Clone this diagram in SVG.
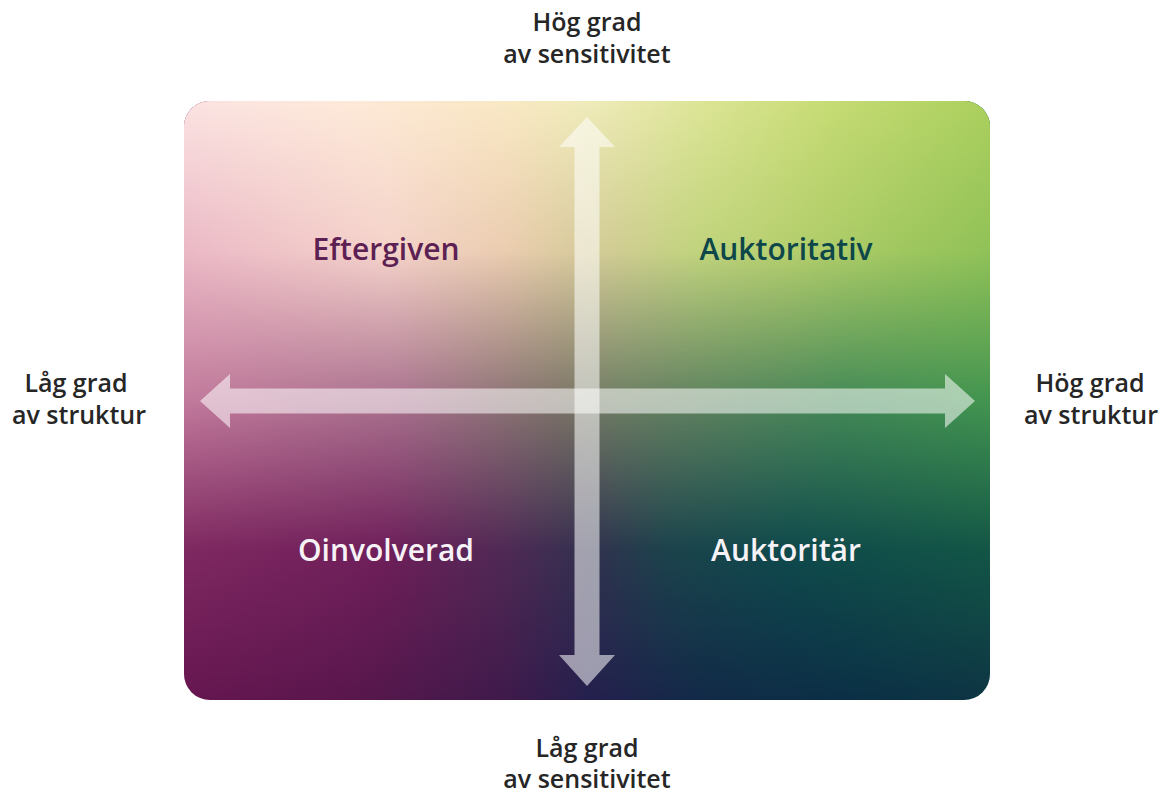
<svg xmlns="http://www.w3.org/2000/svg" width="1165" height="795" viewBox="0 0 1165 795">
  <style>
    .axis { font-family: "Open Sans", "Noto Sans", sans-serif; font-weight: 600; font-size: 25px; fill: #262626; text-anchor: middle; }
    .quad { font-family: "Open Sans", "Noto Sans", sans-serif; font-weight: 600; font-size: 30px; text-anchor: middle; }
    .arrow { fill: #ffffff; fill-opacity: 0.55; }
  </style>
  <defs>
    <clipPath id="boxClip">
      <rect x="184" y="101" width="806" height="599" rx="26" ry="26"/>
    </clipPath>
    <!-- row colour gradients (horizontal) -->
    <linearGradient id="row0" gradientUnits="userSpaceOnUse" x1="184" y1="0" x2="990" y2="0">
      <stop offset="0" stop-color="#fbe3e2"/>
      <stop offset="0.2" stop-color="#fde9d9"/>
      <stop offset="0.4" stop-color="#f9e8c4"/>
      <stop offset="0.5" stop-color="#efebba"/>
      <stop offset="0.65" stop-color="#dbe494"/>
      <stop offset="0.8" stop-color="#c6db74"/>
      <stop offset="1" stop-color="#abcf5e"/>
    </linearGradient>
    <linearGradient id="row1" gradientUnits="userSpaceOnUse" x1="184" y1="0" x2="990" y2="0">
      <stop offset="0" stop-color="#ebb9c6"/>
      <stop offset="0.25" stop-color="#f5d3cb"/>
      <stop offset="0.4" stop-color="#ebcdb0"/>
      <stop offset="0.5" stop-color="#d6cb9a"/>
      <stop offset="0.64" stop-color="#c1d47d"/>
      <stop offset="0.75" stop-color="#b6cf6e"/>
      <stop offset="0.9" stop-color="#9fc75f"/>
      <stop offset="1" stop-color="#91c258"/>
    </linearGradient>
    <linearGradient id="row2" gradientUnits="userSpaceOnUse" x1="184" y1="0" x2="990" y2="0">
      <stop offset="0" stop-color="#c27a9c"/>
      <stop offset="0.27" stop-color="#a9728e"/>
      <stop offset="0.47" stop-color="#7d7568"/>
      <stop offset="0.54" stop-color="#6e7f64"/>
      <stop offset="0.82" stop-color="#448a57"/>
      <stop offset="1" stop-color="#439550"/>
    </linearGradient>
    <linearGradient id="row3" gradientUnits="userSpaceOnUse" x1="184" y1="0" x2="990" y2="0">
      <stop offset="0" stop-color="#7f2961"/>
      <stop offset="0.25" stop-color="#6f1f5a"/>
      <stop offset="0.4" stop-color="#4f2a55"/>
      <stop offset="0.5" stop-color="#33314f"/>
      <stop offset="0.6" stop-color="#1c434c"/>
      <stop offset="0.75" stop-color="#0f4a4c"/>
      <stop offset="1" stop-color="#135646"/>
    </linearGradient>
    <linearGradient id="row4" gradientUnits="userSpaceOnUse" x1="184" y1="0" x2="990" y2="0">
      <stop offset="0" stop-color="#661650"/>
      <stop offset="0.2" stop-color="#5a174d"/>
      <stop offset="0.4" stop-color="#3f1a4b"/>
      <stop offset="0.5" stop-color="#25204e"/>
      <stop offset="0.64" stop-color="#122a48"/>
      <stop offset="0.83" stop-color="#0b3046"/>
      <stop offset="1" stop-color="#0e3544"/>
    </linearGradient>
    <!-- vertical fade masks -->
    <linearGradient id="fade0" gradientUnits="userSpaceOnUse" x1="0" y1="101" x2="0" y2="250">
      <stop offset="0" stop-color="#fff" stop-opacity="1"/>
      <stop offset="1" stop-color="#fff" stop-opacity="0"/>
    </linearGradient>
    <linearGradient id="fade1" gradientUnits="userSpaceOnUse" x1="0" y1="250" x2="0" y2="400">
      <stop offset="0" stop-color="#fff" stop-opacity="1"/>
      <stop offset="1" stop-color="#fff" stop-opacity="0"/>
    </linearGradient>
    <linearGradient id="fade2" gradientUnits="userSpaceOnUse" x1="0" y1="400" x2="0" y2="550">
      <stop offset="0" stop-color="#fff" stop-opacity="1"/>
      <stop offset="1" stop-color="#fff" stop-opacity="0"/>
    </linearGradient>
    <linearGradient id="fade3" gradientUnits="userSpaceOnUse" x1="0" y1="550" x2="0" y2="700">
      <stop offset="0" stop-color="#fff" stop-opacity="1"/>
      <stop offset="1" stop-color="#fff" stop-opacity="0"/>
    </linearGradient>
    <mask id="m0" maskUnits="userSpaceOnUse" x="0" y="0" width="1165" height="795">
      <rect x="184" y="95" width="806" height="610" fill="url(#fade0)"/>
    </mask>
    <mask id="m1" maskUnits="userSpaceOnUse" x="0" y="0" width="1165" height="795">
      <rect x="184" y="95" width="806" height="610" fill="url(#fade1)"/>
    </mask>
    <mask id="m2" maskUnits="userSpaceOnUse" x="0" y="0" width="1165" height="795">
      <rect x="184" y="95" width="806" height="610" fill="url(#fade2)"/>
    </mask>
    <mask id="m3" maskUnits="userSpaceOnUse" x="0" y="0" width="1165" height="795">
      <rect x="184" y="95" width="806" height="610" fill="url(#fade3)"/>
    </mask>
  </defs>

  <g id="background" clip-path="url(#boxClip)">
    <rect x="184" y="101" width="806" height="599" fill="url(#row4)"/>
    <rect x="184" y="101" width="806" height="599" fill="url(#row3)" mask="url(#m3)"/>
    <rect x="184" y="101" width="806" height="599" fill="url(#row2)" mask="url(#m2)"/>
    <rect x="184" y="101" width="806" height="599" fill="url(#row1)" mask="url(#m1)"/>
    <rect x="184" y="101" width="806" height="599" fill="url(#row0)" mask="url(#m0)"/>
  </g>

  <g id="connectors">
    <polygon class="arrow" points="200,401 230,374 230,388.5 945,388.5 945,374 975,401 945,428 945,413.5 230,413.5 230,428"/>
    <polygon class="arrow" points="587,117 615,147 599.5,147 599.5,655 615,655 587,686 559,655 574.5,655 574.5,147 559,147"/>
  </g>

  <g id="quadrant-eftergiven">
    <text class="quad" x="386" y="260" fill="#5c2152">Eftergiven</text>
  </g>
  <g id="quadrant-auktoritativ">
    <text class="quad" x="786" y="260" fill="#0e4749">Auktoritativ</text>
  </g>
  <g id="quadrant-oinvolverad">
    <text class="quad" x="386" y="561" fill="#f7f2f6">Oinvolverad</text>
  </g>
  <g id="quadrant-auktoritar">
    <text class="quad" x="786" y="561" fill="#f7f2f6">Auktoritär</text>
  </g>

  <g id="label-top">
    <text class="axis" x="587" y="31">Hög grad</text>
    <text class="axis" x="587" y="63">av sensitivitet</text>
  </g>
  <g id="label-bottom">
    <text class="axis" x="587" y="757">Låg grad</text>
    <text class="axis" x="587" y="788">av sensitivitet</text>
  </g>
  <g id="label-left">
    <text class="axis" x="76" y="392">Låg grad</text>
    <text class="axis" x="79" y="424">av struktur</text>
  </g>
  <g id="label-right">
    <text class="axis" x="1090" y="392">Hög grad</text>
    <text class="axis" x="1091" y="424">av struktur</text>
  </g>
</svg>
